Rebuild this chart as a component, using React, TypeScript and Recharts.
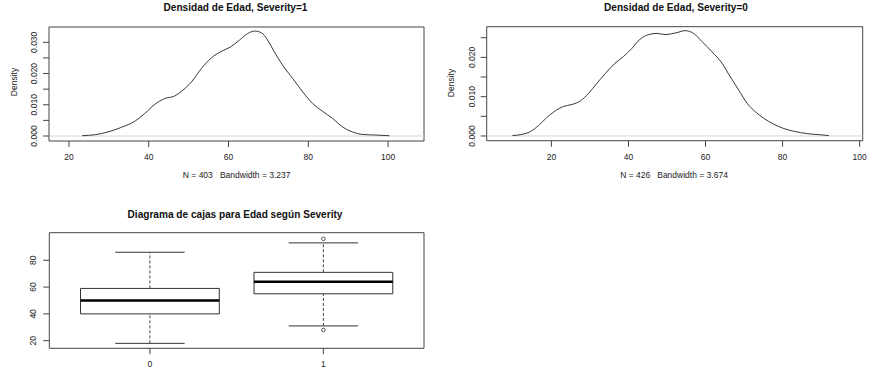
import {
  LineChart,
  Line,
  XAxis,
  YAxis,
  ReferenceLine,
  ReferenceArea,
  ComposedChart,
  Scatter,
} from "recharts";

// Severity = 1 density (Edad, density)
const edadSev1 = [
  23.3, 26.5, 29.8, 33.2, 36.5, 39, 41.5, 44, 46.5, 48.2, 50.7, 53.2, 55.7, 58.2, 60.5, 62.75,
  64.8, 66.5, 68.2, 69.8, 71.5, 73.6, 76.1, 78.6, 81.1, 83.6, 86.1, 88.6, 91.1, 93.6, 96.9, 100.3,
];
const densSev1 = [
  0.0001, 0.0004, 0.0013, 0.0028, 0.0047, 0.0072, 0.0101, 0.012, 0.0128, 0.0143, 0.0173, 0.0216,
  0.025, 0.0271, 0.0285, 0.0307, 0.0328, 0.0336, 0.0331, 0.0307, 0.0269, 0.0226, 0.0184, 0.0141,
  0.0104, 0.0079, 0.0056, 0.0029, 0.0013, 0.0005, 0.0003, 0.0001,
];

// Severity = 0 density
const edadSev0 = [
  9.9, 12.3, 14.5, 16.6, 18.8, 21, 23.1, 25.3, 27.5, 29.6, 31.8, 34, 36.5, 38.7, 40.9, 43, 45.3,
  47.4, 49.5, 52.6, 54.7, 56.9, 59.1, 61.7, 64.3, 66.4, 68.6, 70.8, 72.9, 75.1, 77.7, 80.3, 82.9,
  86.4, 89.8, 92,
];
const densSev0 = [
  0.0001, 0.0004, 0.0011, 0.0026, 0.0047, 0.0064, 0.0075, 0.008, 0.0089, 0.0108, 0.0134, 0.0159,
  0.0185, 0.0202, 0.0223, 0.0246, 0.0258, 0.0261, 0.0258, 0.0263, 0.0268, 0.0261, 0.024, 0.0214,
  0.0185, 0.0151, 0.0117, 0.0083, 0.0062, 0.0045, 0.003, 0.0019, 0.0012, 0.0006, 0.0003, 0.0001,
];

const edadTicks = [20, 40, 60, 80, 100];
const densTicksSev1 = [0, 0.005, 0.01, 0.015, 0.02, 0.025, 0.03];
const densLabelsSev1 = [0, 0.01, 0.02, 0.03];
const densTicksSev0 = [0, 0.005, 0.01, 0.015, 0.02, 0.025];
const densLabelsSev0 = [0, 0.01, 0.02];

// box plot: Edad by Severity
const boxLabels = ["0", "1"];
const boxPos = [1, 2];
const boxMin = [18, 31];
const boxQ1 = [40, 55];
const boxMedian = [50, 64];
const boxQ3 = [59, 71];
const boxMax = [86, 93];
const outlierPos = [2, 2];
const outlierEdad = [96, 28];
const boxTicks = [20, 40, 60, 80];

const FONT = "'Liberation Sans', Arial, sans-serif";
const INK = "#383838";
const TXT = "#222";

const sev1Rows = edadSev1.map((x, i) => ({ x, d: densSev1[i] }));
const sev0Rows = edadSev0.map((x, i) => ({ x, d: densSev0[i] }));
const outlierRows = outlierPos.map((x, i) => ({ x, y: outlierEdad[i] }));

const RotatedTick = (props: any) => {
  const { x, y, payload, labels, fmt, back } = props;
  const v = payload.value;
  if (!labels.some((l: number) => Math.abs(l - v) < 1e-9)) return <g />;
  const bx = x - back;
  return (
    <text
      x={bx}
      y={y}
      transform={`rotate(-90, ${bx}, ${y})`}
      textAnchor="middle"
      fontSize={8.5}
      fill={TXT}
    >
      {fmt(v)}
    </text>
  );
};

const DensityPlot = ({ rows, xDomain, yDomain, yTicks, yLabels, margin }: any) => (
  <LineChart width={435} height={190} data={rows} margin={margin}>
    <XAxis
      type="number"
      dataKey="x"
      domain={xDomain}
      ticks={edadTicks}
      interval={0}
      allowDataOverflow
      axisLine={false}
      tickSize={6}
      tickMargin={7}
      tickLine={{ stroke: "#444" }}
      tick={{ fontSize: 8.5, fill: TXT }}
      height={30}
    />
    <YAxis
      type="number"
      domain={yDomain}
      ticks={yTicks}
      interval={0}
      allowDataOverflow
      axisLine={false}
      tickSize={6}
      tickMargin={0}
      tickLine={{ stroke: "#444" }}
      width={30}
      tick={(p: any) => (
        <RotatedTick {...p} labels={yLabels} fmt={(v: number) => v.toFixed(3)} back={5.5} />
      )}
    />
    <ReferenceArea
      x1={xDomain[0]}
      x2={xDomain[1]}
      y1={yDomain[0]}
      y2={yDomain[1]}
      fill="none"
      stroke="#444"
      strokeWidth={1}
    />
    <ReferenceLine y={0} stroke="#d4d4d4" strokeWidth={1} />
    <Line
      type="monotone"
      dataKey="d"
      stroke={INK}
      strokeWidth={1}
      dot={false}
      isAnimationActive={false}
    />
  </LineChart>
);

const BOX_HALF = 0.4;
const CAP_HALF = 0.2;

const BoxPlot = () => (
  <ComposedChart width={435} height={176} margin={{ top: 37.7, right: 11, bottom: 2.7, left: 19.3 }}>
    <XAxis
      type="number"
      dataKey="x"
      domain={[0.42, 2.58]}
      ticks={boxPos}
      interval={0}
      allowDataOverflow
      axisLine={false}
      tickSize={6}
      tickMargin={7}
      tickLine={{ stroke: "#444" }}
      tick={{ fontSize: 8.5, fill: TXT }}
      tickFormatter={(v: number) => boxLabels[boxPos.indexOf(v)]}
      height={20}
    />
    <YAxis
      type="number"
      dataKey="y"
      domain={[14.3, 100.6]}
      ticks={boxTicks}
      interval={0}
      allowDataOverflow
      axisLine={false}
      tickSize={6}
      tickMargin={0}
      tickLine={{ stroke: "#444" }}
      width={30}
      tick={(p: any) => (
        <RotatedTick {...p} labels={boxTicks} fmt={(v: number) => String(v)} back={7.3} />
      )}
    />
    <ReferenceArea x1={0.42} x2={2.58} y1={14.3} y2={100.6} fill="none" stroke="#444" />
    {boxPos.map((p, i) => (
      <ReferenceLine
        key={`wu${i}`}
        segment={[
          { x: p, y: boxQ3[i] },
          { x: p, y: boxMax[i] },
        ]}
        stroke="#444"
        strokeDasharray="3 2"
      />
    ))}
    {boxPos.map((p, i) => (
      <ReferenceLine
        key={`wl${i}`}
        segment={[
          { x: p, y: boxMin[i] },
          { x: p, y: boxQ1[i] },
        ]}
        stroke="#444"
        strokeDasharray="3 2"
      />
    ))}
    {boxPos.map((p, i) => (
      <ReferenceLine
        key={`cu${i}`}
        segment={[
          { x: p - CAP_HALF, y: boxMax[i] },
          { x: p + CAP_HALF, y: boxMax[i] },
        ]}
        stroke="#333"
      />
    ))}
    {boxPos.map((p, i) => (
      <ReferenceLine
        key={`cl${i}`}
        segment={[
          { x: p - CAP_HALF, y: boxMin[i] },
          { x: p + CAP_HALF, y: boxMin[i] },
        ]}
        stroke="#333"
      />
    ))}
    {boxPos.map((p, i) => (
      <ReferenceArea
        key={`b${i}`}
        x1={p - BOX_HALF}
        x2={p + BOX_HALF}
        y1={boxQ1[i]}
        y2={boxQ3[i]}
        fill="#fff"
        fillOpacity={1}
        stroke="#333"
      />
    ))}
    {boxPos.map((p, i) => (
      <ReferenceLine
        key={`m${i}`}
        segment={[
          { x: p - BOX_HALF, y: boxMedian[i] },
          { x: p + BOX_HALF, y: boxMedian[i] },
        ]}
        stroke="#000"
        strokeWidth={2.6}
      />
    ))}
    <Scatter
      data={outlierRows}
      dataKey="y"
      isAnimationActive={false}
      shape={(p: any) => <circle cx={p.cx} cy={p.cy} r={1.8} fill="none" stroke="#444" strokeWidth={0.9} />}
    />
  </ComposedChart>
);

export default function App() {
  return (
    <div
      style={{
        position: "absolute",
        left: 0,
        top: 0,
        width: 870,
        height: 371,
        background: "#fff",
        fontFamily: FONT,
        overflow: "hidden",
      }}
    >
      <div style={{ position: "absolute", left: 0, top: 0 }}>
        <DensityPlot
          rows={sev1Rows}
          xDomain={[15, 109]}
          yDomain={[-0.0016, 0.0349]}
          yTicks={densTicksSev1}
          yLabels={densLabelsSev1}
          margin={{ top: 27, right: 11, bottom: 19, left: 19 }}
        />
      </div>
      <div style={{ position: "absolute", left: 435, top: 0 }}>
        <DensityPlot
          rows={sev0Rows}
          xDomain={[3.2, 100.8]}
          yDomain={[-0.0012, 0.0278]}
          yTicks={densTicksSev0}
          yLabels={densLabelsSev0}
          margin={{ top: 26.7, right: 7.3, bottom: 19.3, left: 21.7 }}
        />
      </div>
      <div style={{ position: "absolute", left: 0, top: 195 }}>
        <BoxPlot />
      </div>
      <svg
        width={870}
        height={371}
        style={{ position: "absolute", left: 0, top: 0, pointerEvents: "none" }}
      >
        <g fontWeight="bold" fontSize={10.1} fill="#111" textAnchor="middle">
          <text x={235.5} y={11.2}>Densidad de Edad, Severity=1</text>
          <text x={676} y={11.2}>Densidad de Edad, Severity=0</text>
          <text x={235} y={218}>Diagrama de cajas para Edad según Severity</text>
        </g>
        <g fontSize={8.5} fill={TXT} textAnchor="middle">
          <text x={236.7} y={178} style={{ whiteSpace: "pre" }}>
            {"N = 403   Bandwidth = 3.237"}
          </text>
          <text x={674} y={178} style={{ whiteSpace: "pre" }}>
            {"N = 426   Bandwidth = 3.674"}
          </text>
          <text x={16.8} y={82} transform="rotate(-90, 16.8, 82)">
            Density
          </text>
          <text x={454.4} y={83} transform="rotate(-90, 454.4, 83)">
            Density
          </text>
        </g>
      </svg>
    </div>
  );
}
